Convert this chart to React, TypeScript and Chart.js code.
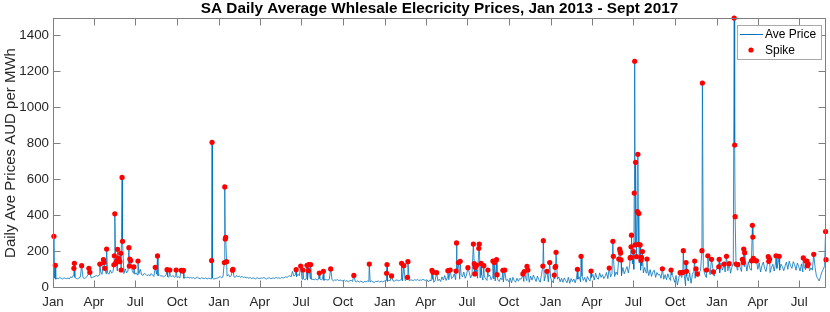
import React, { useEffect, useRef } from "react";
import { Chart, registerables } from "chart.js";
Chart.register(...registerables);

const FONT = "'Liberation Sans', Arial, Helvetica, sans-serif";
const TITLE = "SA Daily Average Whlesale Elecricity Prices, Jan 2013 - Sept 2017";
const Y_LABEL = "Daily Ave Prices AUD per MWh";
const LEGEND_LABELS = ["Ave Price", "Spike"];

// Day index 0 = 1 Jan 2013. Base samples every 3 days from the start of each year.
const STEP = 3;
const LAST_DAY = 1701;
const yearStartDays = [0, 365, 730, 1095, 1461];

const base2013 = [
  48, 52, 45, 50, 47, 55, 49, 46, 52, 50, 48,
  51, 47, 58, 53, 68, 55, 50, 47, 52,
  56, 72, 54, 49, 53, 60, 75, 58, 52, 55,
  58, 62, 66, 60, 70, 85, 72, 68, 90, 75,
  80, 72, 95, 78, 88, 110, 85, 92, 100, 82,
  95, 88, 76, 102, 80, 90, 75, 85, 95, 78,
  72, 80, 68, 75, 100, 70, 66, 78, 72, 64,
  70, 62, 76, 68, 60, 85, 72, 65, 70, 62,
  64, 58, 62, 70, 60, 56, 63, 58, 66, 55,
  60, 54, 58, 52, 62, 56, 50, 55, 53, 57,
  52, 55, 50, 54, 48, 52, 56, 50, 47, 53,
  50, 48, 52, 46, 50, 49, 47, 51, 45, 48, 50, 52,
];
const base2014 = [
  55, 60, 52, 58, 56, 65, 62, 70, 58, 64, 55,
  60, 55, 66, 58, 62, 56, 60, 54, 58,
  52, 55, 50, 54, 48, 52, 50, 47, 53, 50,
  48, 52, 50, 55, 49, 46, 51, 53, 48, 50,
  52, 49, 55, 50, 53, 48, 56, 51, 54, 58,
  55, 60, 65, 58, 88, 62, 68, 60, 72, 64,
  50, 45, 48, 42, 46, 40, 44, 47, 43, 45,
  42, 46, 40, 44, 48, 41, 45, 39, 43, 42,
  40, 44, 38, 42, 36, 41, 39, 43, 37, 40,
  38, 35, 40, 33, 37, 30, 36, 39, 32, 35,
  33, 30, 36, 28, 34, 31, 26, 33, 30, 35,
  32, 29, 35, 30, 27, 33, 31, 36, 28, 34, 30, 33,
];
const base2015 = [
  35, 38, 33, 40, 36, 42, 37, 34, 39, 41, 36,
  38, 42, 35, 40, 37, 44, 39, 36, 41,
  40, 36, 43, 38, 45, 37, 41, 39, 44, 40,
  38, 42, 30, 40, 35, 44, 28, 38, 42, 36,
  45, 32, 58, 40, 65, 38, 55, 42, 70, 48,
  55, 75, 42, 80, 50, 45, 72, 58, 85, 50,
  68, 45, 82, 52, 70, 55, 42, 78, 50, 65,
  52, 70, 40, 62, 48, 38, 60, 68, 42, 56,
  46, 35, 58, 40, 32, 52, 42, 30, 50, 38,
  44, 30, 52, 25, 55, 36, 28, 50, 34, 48,
  45, 60, 32, 65, 38, 55, 28, 62, 40, 68,
  50, 32, 62, 42, 28, 70, 48, 35, 65, 42, 30, 58,
];
const base2016 = [
  52, 35, 25, 48, 20, 45, 58, 30, 50, 28, 52,
  38, 25, 55, 22, 48, 32, 46, 25, 52,
  45, 58, 30, 62, 38, 55, 28, 60, 42, 35,
  55, 72, 40, 78, 52, 45, 80, 55, 70, 48,
  62, 82, 48, 90, 58, 75, 95, 60, 85, 70,
  78, 100, 65, 110, 75, 95, 115, 80, 125, 90,
  130, 100, 145, 105, 90, 135, 95, 120, 80, 110,
  80, 105, 65, 98, 60, 85, 95, 55, 82, 68,
  72, 50, 85, 45, 70, 42, 75, 52, 38, 68,
  55, 28, 65, 12, 50, 3, 55, 25, 68, 8,
  62, 35, 80, 22, 72, 88, 50, 95, 60, 82,
  95, 65, 105, 75, 55, 100, 110, 70, 90, 105, 62, 95,
];
const base2017 = [
  100, 125, 80, 135, 95, 118, 85, 130, 92, 120, 78,
  112, 135, 85, 125, 95, 140, 110, 88, 130,
  115, 138, 90, 142, 108, 95, 130, 148, 100, 125,
  100, 135, 85, 120, 140, 105, 88, 130, 112, 82,
  110, 128, 90, 135, 105, 140, 95, 128, 115, 92,
  118, 140, 100, 145, 120, 105, 142, 125, 95, 135,
  115, 90, 130, 85, 112, 98, 80, 120, 92, 108,
  95, 75, 110, 62, 48, 35, 60, 85, 100, 120, 105,
];
const baseByYear = [base2013, base2014, base2015, base2016, base2017];

// Spike days (day index) and their daily average price
const spikeDays = [
  2, 5, 46, 47, 63, 79, 81, 103, 111, 112, 114, 118, 134, 135, 136, 138, 140, 142, 144, 147,
  149, 150, 152, 153, 167, 168, 169, 171, 178, 187, 225, 230, 251, 257, 271, 282, 285, 287,
  349, 350, 377, 378, 379, 380, 382, 395, 396,
  535, 545, 550, 559, 562, 563, 567, 586, 595, 611, 662, 696, 734, 735, 745, 767, 772, 780, 781,
  834, 836, 844, 869, 874, 887, 888, 892, 896, 913, 925, 927, 928, 929, 932, 937, 938, 942, 948,
  957, 968, 971, 976, 977, 990, 994, 1034, 1037, 1043, 1045, 1078, 1079, 1087, 1093,
  1103, 1105, 1106, 1107, 1154, 1162, 1184, 1224, 1232, 1233, 1245, 1247, 1248, 1249, 1250,
  1270, 1271, 1272, 1273, 1277, 1279, 1280, 1281, 1282, 1284, 1286, 1287, 1288, 1289, 1292,
  1294, 1295, 1297, 1307, 1341, 1360, 1380, 1384, 1386, 1387, 1393, 1394, 1412, 1415, 1418,
  1428, 1429, 1438, 1441, 1449, 1453,
  1465, 1466, 1477, 1482, 1488, 1499, 1500, 1501, 1503, 1507, 1517, 1519, 1520, 1522, 1537,
  1539, 1540, 1541, 1545, 1548, 1574, 1575, 1577, 1591, 1598, 1651, 1657, 1659, 1660, 1662,
  1674, 1700, 1701,
];
const spikeValues = [
  283, 122, 105, 133, 120, 105, 83, 129, 153, 137, 105, 212, 125, 175, 408, 133, 146, 211, 161, 142,
  189, 96, 610, 255, 220, 118, 157, 148, 113, 146, 111, 174, 98, 96, 96, 94, 90, 94,
  148, 805, 137, 557, 268, 277, 142, 95, 100,
  98, 118, 96, 122, 92, 126, 126, 79, 89, 102, 66, 129, 78, 126, 63, 133, 120, 55, 142,
  94, 83, 81, 92, 96, 90, 246, 137, 144, 109, 240, 131, 74, 111, 122, 216, 240, 133, 120,
  96, 146, 137, 153, 70, 94, 96, 74, 87, 116, 96, 118, 259, 89, 137,
  68, 111, 116, 194, 100, 172, 90, 107, 255, 172, 157, 212, 200, 190, 152,
  163, 166, 225, 289, 198, 523, 1255, 235, 694, 170, 420, 738, 238, 410, 235,
  152, 166, 198, 157, 103, 96, 81, 81, 83, 203, 137, 89, 146, 103, 74,
  203, 1134, 96, 175, 155, 85,
  114, 155, 129, 172, 131, 1495, 790, 392, 129, 126, 155, 137, 212, 192, 147,
  344, 279, 161, 148, 147, 170, 144, 157, 175, 172, 163, 146, 146, 120, 129,
  183, 309, 153,
];

const yTicks = [0, 200, 400, 600, 800, 1000, 1200, 1400];
const tickYears = [2013, 2014, 2015, 2016, 2017];
const tickMonths = [0, 3, 6, 9];
const tickMonthLabels = ["Jan", "Apr", "Jul", "Oct"];

const Y_MIN = -4;
const Y_MAX = 1495;

function buildXTicks() {
  const start = Date.UTC(2013, 0, 1);
  const out: { value: number; label: string }[] = [];
  tickYears.forEach((y) =>
    tickMonths.forEach((m, i) => {
      const d = Math.round((Date.UTC(y, m, 1) - start) / 86400000);
      if (d <= LAST_DAY) out.push({ value: d, label: tickMonthLabels[i] });
    })
  );
  return out;
}

function buildLine() {
  const map = new Map<number, number>();
  baseByYear.forEach((arr, yi) =>
    arr.forEach((v, i) => {
      const d = yearStartDays[yi] + i * STEP;
      if (d <= LAST_DAY) map.set(d, v);
    })
  );
  spikeDays.forEach((d, i) => map.set(d, spikeValues[i]));
  return [...map.entries()].sort((a, b) => a[0] - b[0]).map(([x, y]) => ({ x, y }));
}

const AXIS_COLOR = "#7f7f7f";
const LINE_COLOR = "#0072BD";
const SPIKE_COLOR = "#ff0000";

export default function App() {
  const ref = useRef<HTMLCanvasElement>(null);
  useEffect(() => {
    document.body.style.margin = "0";
    const xTicks = buildXTicks();
    const lineData = buildLine();
    const spikeData = spikeDays.map((d, i) => ({ x: d, y: spikeValues[i] }));

    const decor = {
      id: "decor",
      afterDraw(chart: any) {
        const { ctx, chartArea: a, scales } = chart;
        const xs = scales.x;
        const ys = scales.y;
        ctx.save();
        // axes box
        ctx.strokeStyle = AXIS_COLOR;
        ctx.lineWidth = 1;
        const L = Math.round(a.left) + 0.5;
        const R = Math.round(a.right) - 0.5;
        const T = Math.round(a.top) + 0.5;
        const B = Math.round(a.bottom) - 0.5;
        ctx.strokeRect(L, T, R - L, B - T);
        ctx.beginPath();
        const TL = 7;
        xTicks.forEach((t) => {
          const px = Math.round(xs.getPixelForValue(t.value)) + 0.5;
          ctx.moveTo(px, B);
          ctx.lineTo(px, B - TL);
          ctx.moveTo(px, T);
          ctx.lineTo(px, T + TL);
        });
        yTicks.forEach((v) => {
          const py = Math.round(ys.getPixelForValue(v)) + 0.5;
          ctx.moveTo(L, py);
          ctx.lineTo(L + TL, py);
          ctx.moveTo(R, py);
          ctx.lineTo(R - TL, py);
        });
        ctx.stroke();

        // legend
        const lx = 737.5, ly = 25.5, lw = 84, lh = 34;
        ctx.fillStyle = "#ffffff";
        ctx.fillRect(lx, ly, lw, lh);
        ctx.strokeStyle = "#a8a8a8";
        ctx.strokeRect(lx, ly, lw, lh);
        ctx.strokeStyle = LINE_COLOR;
        ctx.lineWidth = 1;
        ctx.beginPath();
        ctx.moveTo(740, 34.5);
        ctx.lineTo(763, 34.5);
        ctx.stroke();
        ctx.fillStyle = SPIKE_COLOR;
        ctx.beginPath();
        ctx.arc(751, 50, 2.6, 0, Math.PI * 2);
        ctx.fill();
        ctx.fillStyle = "#000000";
        ctx.font = `12px ${FONT}`;
        ctx.textAlign = "left";
        ctx.textBaseline = "middle";
        ctx.fillText(LEGEND_LABELS[0], 765, 35);
        ctx.fillText(LEGEND_LABELS[1], 765, 51);

        // title
        ctx.font = `bold 15.3px ${FONT}`;
        ctx.textAlign = "center";
        ctx.textBaseline = "alphabetic";
        ctx.fillStyle = "#000000";
        ctx.fillText(TITLE, (a.left + a.right) / 2, 13);

        // y label
        ctx.save();
        ctx.translate(11, (a.top + a.bottom) / 2);
        ctx.rotate(-Math.PI / 2);
        ctx.font = `15px ${FONT}`;
        ctx.fillStyle = "#262626";
        ctx.textAlign = "center";
        ctx.textBaseline = "middle";
        ctx.fillText(Y_LABEL, 0, 0);
        ctx.restore();
        ctx.restore();
      },
    };

    const chart = new Chart(ref.current!, {
      type: "line",
      data: {
        datasets: [
          {
            type: "scatter",
            label: LEGEND_LABELS[1],
            data: spikeData,
            backgroundColor: SPIKE_COLOR,
            borderColor: SPIKE_COLOR,
            pointRadius: 2.6,
            pointBorderWidth: 0,
            showLine: false,
            clip: false,
          } as any,
          {
            type: "line",
            label: LEGEND_LABELS[0],
            data: lineData,
            borderColor: LINE_COLOR,
            borderWidth: 0.8,
            pointRadius: 0,
            tension: 0,
            fill: false,
          },
        ],
      },
      options: {
        animation: false,
        responsive: false,
        devicePixelRatio: 1,
        layout: { padding: { top: 18, right: 3, left: 0, bottom: 0 } },
        plugins: { legend: { display: false }, tooltip: { enabled: false }, title: { display: false } },
        scales: {
          x: {
            type: "linear",
            min: 0,
            max: LAST_DAY,
            grid: { display: false, drawTicks: false },
            border: { display: false },
            afterBuildTicks: (s: any) => {
              s.ticks = xTicks.map((t) => ({ value: t.value }));
            },
            afterFit: (s: any) => {
              s.height = 24;
            },
            ticks: {
              autoSkip: false,
              maxRotation: 0,
              padding: 6,
              color: "#262626",
              font: { family: FONT, size: 13.33 },
              callback: (v: any) => {
                const t = xTicks.find((k) => k.value === v);
                return t ? t.label : "";
              },
            },
          },
          y: {
            type: "linear",
            min: Y_MIN,
            max: Y_MAX,
            grid: { display: false, drawTicks: false },
            border: { display: false },
            afterBuildTicks: (s: any) => {
              s.ticks = yTicks.map((v) => ({ value: v }));
            },
            afterFit: (s: any) => {
              s.width = 53;
            },
            ticks: {
              padding: 4,
              color: "#262626",
              font: { family: FONT, size: 13.33 },
              callback: (v: any) => String(v),
            },
          },
        },
      },
      plugins: [decor],
    });
    return () => chart.destroy();
  }, []);

  return (
    <div style={{ width: 830, height: 312 }}>
      <canvas ref={ref} width={830} height={312} style={{ display: "block" }} />
    </div>
  );
}
